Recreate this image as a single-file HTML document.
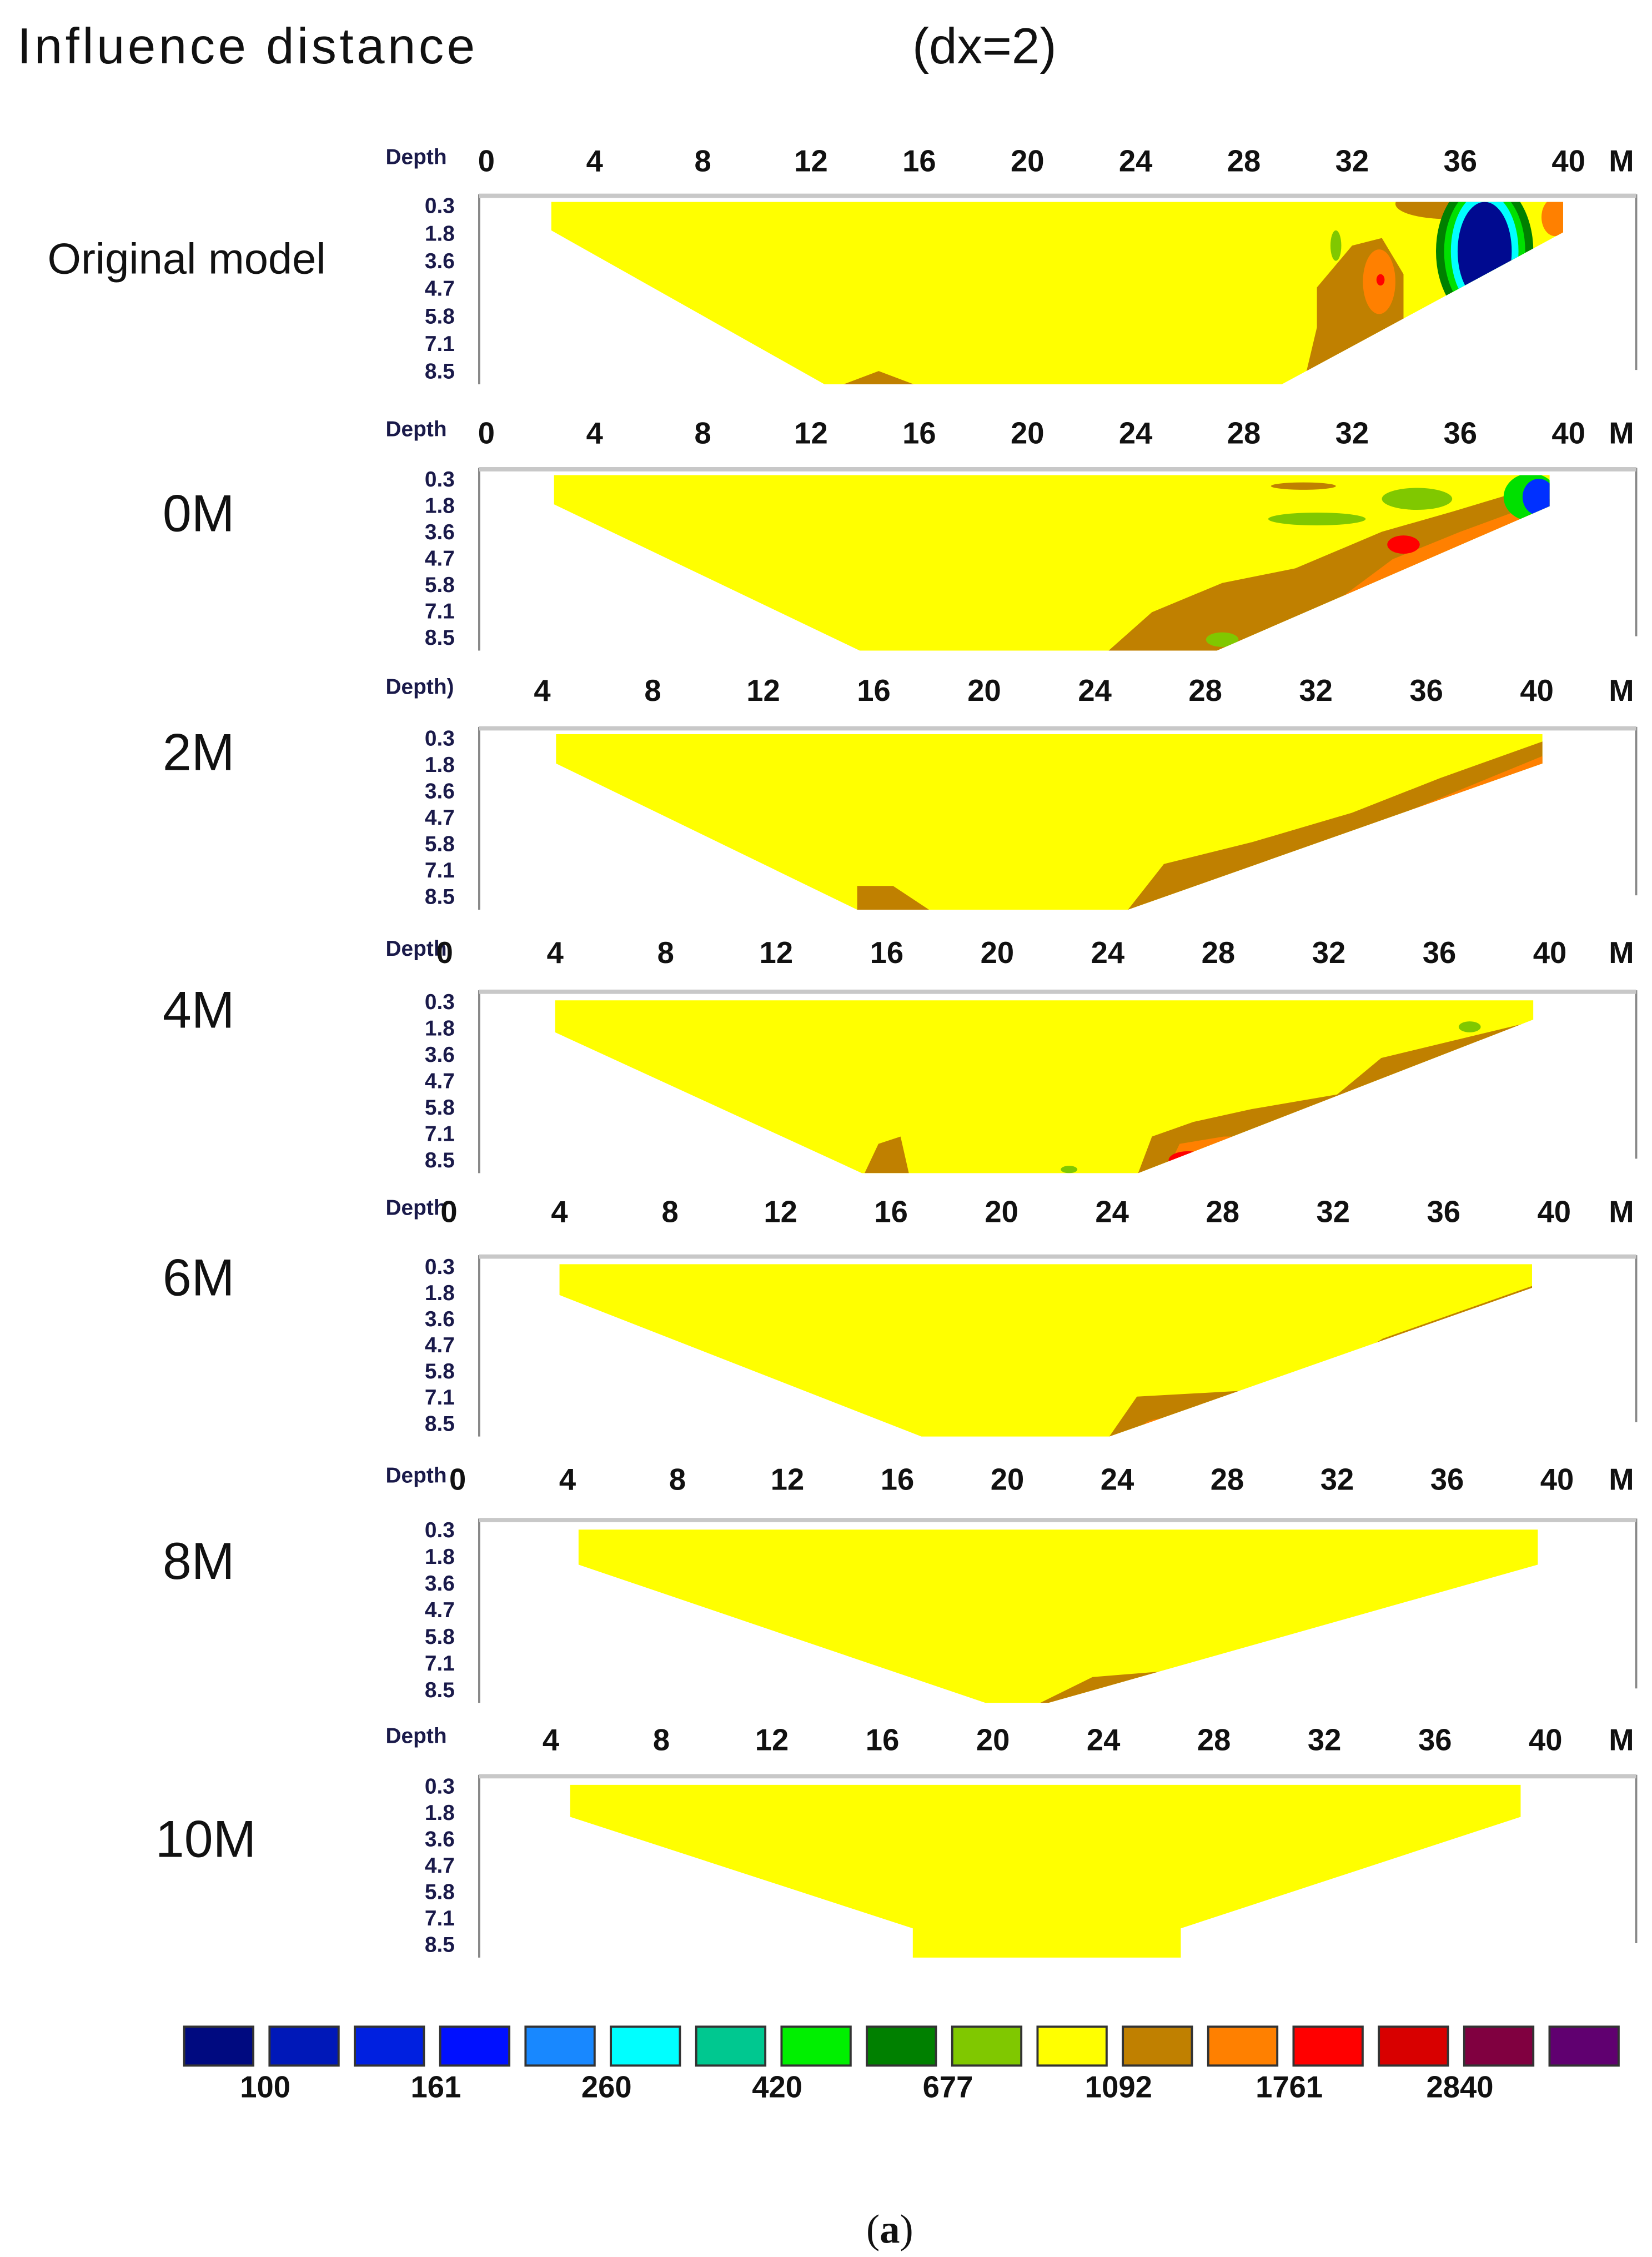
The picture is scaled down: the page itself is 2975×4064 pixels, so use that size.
<!DOCTYPE html>
<html><head><meta charset="utf-8"><style>
html,body{margin:0;padding:0;background:#fff}
svg{display:block}
text{font-family:"Liberation Sans",sans-serif}
.tick{font-weight:bold;font-size:21px;fill:#111}
.dep{font-weight:bold;font-size:15px;fill:#1a1a4a}
</style></head><body>
<svg id="chart" width="2975" height="4064" viewBox="0 0 1148 1568" preserveAspectRatio="none" xmlns="http://www.w3.org/2000/svg">
<text x="12" y="44" font-size="35" fill="#111" textLength="318">Influence distance</text>
<text x="634" y="44" font-size="35" fill="#111">(dx=2)</text>
<text x="602" y="1558" font-size="28" fill="#111" style="font-family:'Liberation Serif',serif">(<tspan font-weight="bold">a</tspan>)</text>
<g id="panels"></g>
<g id="legend"></g>
</svg>
<script>
const depthLabels=["0.3","1.8","3.6","4.7","5.8","7.1","8.5"];
const xTicksA=[0,4,8,12,16,20,24,28,32,36,40];
const xTicksB=[4,8,12,16,20,24,28,32,36,40];
const panelNames=["Original model","0M","2M","4M","6M","8M","10M"];
const legendValues=["100","161","260","420","677","1092","1761","2840"];
const legendColors=["#000a80","#0018b8","#0020e0","#0010ff","#1888ff","#00ffff","#00c890","#00f000","#008000","#80c800","#ffff00","#c08000","#ff8000","#ff0000","#d80000","#800040","#600070"];
const C={Y:"#ffff00",B:"#c08000",O:"#ff8000",R:"#ff0000",G:"#80c800",DG:"#008000",GR:"#00e000",CY:"#00ffff",BL:"#000a90",LB:"#0030ff"};
const yellow=[
[[2.4,.04],[39.8,.04],[39.8,.2],[29.4,1],[12.5,1],[2.4,.19]],
[[2.5,.04],[39.3,.04],[39.3,.21],[27.0,1],[13.8,1],[2.5,.2]],
[[4.5,.04],[40.2,.04],[40.2,.2],[25.2,1],[15.4,1],[4.5,.2]],
[[4.0,.055],[39.4,.055],[39.4,.16],[25.1,1],[15.1,1],[4.0,.23]],
[[4.0,.05],[39.2,.05],[39.2,.18],[23.9,1],[17.1,1],[4.0,.22]],
[[4.4,.06],[39.3,.06],[39.3,.25],[21.5,1],[19.2,1],[4.4,.25]],
[[4.7,.055],[39.1,.055],[39.1,.23],[26.8,.84],[26.8,1],[17.1,1],[17.1,.84],[4.7,.23]]
];
const polys=[
[["B",[[30.2,1],[30.7,.7],[30.7,.49],[32.0,.27],[33.1,.23],[33.9,.42],[33.9,.8],[31.5,.9],[31,1]]],["B",[[13.2,1],[14.5,.93],[15.8,1]]]],
[["B",[[23.0,1],[24.6,.79],[27.2,.63],[29.9,.55],[33.1,.35],[35.7,.24],[39.3,.08],[41,.08],[41,1.1],[23,1.1]]],["O",[[31.5,.72],[33.5,.5],[36,.35],[39.3,.17],[41,.17],[41,1.1],[31.5,1.1]]]],
[["B",[[25.2,1],[26.5,.75],[29.7,.63],[33.3,.47],[36.5,.28],[40.2,.08],[42,.08],[42,1.1],[25.2,1.1]]],["O",[[27.1,1],[28.6,.83],[33.9,.55],[40.2,.16],[42,.16],[42,1.1],[27.1,1.1]]],["B",[[15.4,.87],[16.7,.87],[18.0,1],[18,1.1],[15.4,1.1]]]],
[["B",[[25.1,1],[25.6,.8],[27.1,.72],[29.2,.65],[32.3,.57],[33.9,.37],[39.4,.17],[42,.17],[42,1.1],[25.1,1.1]]],["O",[[26.1,1],[26.6,.84],[28.2,.8],[29.5,.8],[29.5,1.1],[26.1,1.1]]],["B",[[15.2,1],[15.7,.84],[16.5,.8],[16.8,1]]]],
[["B",[[23.9,1],[24.9,.78],[29.6,.74],[31,.72],[33.8,.46],[39.2,.17],[42,.17],[42,1.1],[23.9,1.1]]]],
[["B",[[21.2,1],[23.1,.86],[28.1,.8],[30,.8],[30,1.1],[21.2,1.1]]]],
[]
];
const ells=[
[["B",35.5,.05,1.9,.08],["O",33.0,.46,.6,.17],["R",33.05,.45,.15,.03],["G",31.4,.27,.2,.08],["DG",36.9,.3,1.8,.38],["GR",36.9,.3,1.5,.34],["CY",36.9,.3,1.25,.31],["BL",36.9,.3,1.0,.26],["O",39.5,.12,.5,.1]],
[["B",30.2,.1,1.2,.02],["G",30.7,.28,1.8,.035],["G",34.4,.17,1.3,.06],["R",33.9,.42,.6,.05],["GR",38.6,.16,1.0,.13],["LB",38.9,.16,.6,.1],["G",27.2,.94,.6,.04]],
[["R",28.1,.96,.6,.05]],
[["R",26.9,.93,.7,.05],["G",37.1,.2,.4,.03],["G",22.6,.98,.3,.02]],
[["O",25.9,.95,.8,.05]],
[],[]
];
const cfg=[
{hy:110,top:135,bot:267,x0:338,k:18.8,ticks:xTicksA,ly:180},
{hy:299,top:325,bot:452,x0:338,k:18.8,ticks:xTicksA,ly:357},
{hy:478,top:505,bot:632,x0:300,k:19.2,ticks:xTicksB,ly:523},
{hy:660,top:688,bot:815,x0:309,k:19.2,ticks:xTicksA,ly:702},
{hy:840,top:872,bot:998,x0:312,k:19.2,ticks:xTicksA,ly:888},
{hy:1026,top:1055,bot:1183,x0:318,k:19.1,ticks:xTicksA,ly:1085},
{hy:1207,top:1233,bot:1360,x0:306,k:19.2,ticks:xTicksB,ly:1278}
];
const NS="http://www.w3.org/2000/svg";
function mk(tag,attrs,parent){const e=document.createElementNS(NS,tag);for(const k in attrs)e.setAttribute(k,attrs[k]);parent.appendChild(e);return e;}
const root=document.getElementById('panels');
cfg.forEach((p,i)=>{
  const X=m=>p.x0+p.k*m, Y=f=>p.top+f*(p.bot-p.top);
  const g=mk('g',{},root);
  
  
  const nm=mk('text',{x:i==0?33:(i==6?108:113),y:p.ly+(i==0?10:12),'font-size':i==0?30:36,fill:'#111'},g);
  nm.textContent=panelNames[i];
  
  
  const dl=mk('text',{x:268,y:p.hy+4,class:'dep'},g);dl.textContent=(i==2?'Depth)':'Depth');
  
  
  p.ticks.forEach(t=>{const tt=mk('text',{x:X(t),y:p.hy+9,class:'tick','text-anchor':'middle'},g);tt.textContent=t;
    
    });
  const mm=mk('text',{x:1118,y:p.hy+9,class:'tick'},g);mm.textContent='M';
  
  
  depthLabels.forEach((d,j)=>{const tt=mk('text',{x:316,y:p.top+13+j*((p.bot-p.top-17)/6),class:'dep','text-anchor':'end'},g);tt.textContent=d;
    
    });
  mk('line',{x1:333,y1:p.top,x2:333,y2:p.bot,stroke:'#888','stroke-width':1.5},g);
  mk('line',{x1:1137,y1:p.top,x2:1137,y2:p.bot-10,stroke:'#888','stroke-width':1.5},g);
  mk('line',{x1:333,y1:p.top+1,x2:1137,y2:p.top+1,stroke:'#c8c8c8','stroke-width':3},g);
  const cp=mk('clipPath',{id:'clip'+i},g);
  const pts=yellow[i].map(v=>X(v[0])+','+Y(v[1])).join(' ');
  mk('polygon',{points:pts},cp);
  const y=mk('polygon',{points:pts,fill:C.Y},g);
  
  
  const an=mk('g',{'clip-path':'url(#clip'+i+')'},g);
  polys[i].forEach(s=>{const e=mk('polygon',{points:s[1].map(v=>X(v[0])+','+Y(v[1])).join(' '),fill:C[s[0]]},an);
    
    });
  ells[i].forEach(s=>{const e=mk('ellipse',{cx:X(s[1]),cy:Y(s[2]),rx:s[3]*p.k,ry:s[4]*(p.bot-p.top),fill:C[s[0]]},an);
    
    });
});
const lg=document.getElementById('legend');
const LX=i=>128+i*59.3;
legendColors.forEach((c,i)=>{const r=mk('rect',{x:LX(i),y:1408,width:48,height:27,fill:c,stroke:'#333','stroke-width':1.5},lg);
  
  });
legendValues.forEach((v,i)=>{const t=mk('text',{x:LX(i*2+1)-3,y:1457,class:'tick','text-anchor':'middle','font-size':18},lg);t.textContent=v;
  
  });
</script>
</body></html>
